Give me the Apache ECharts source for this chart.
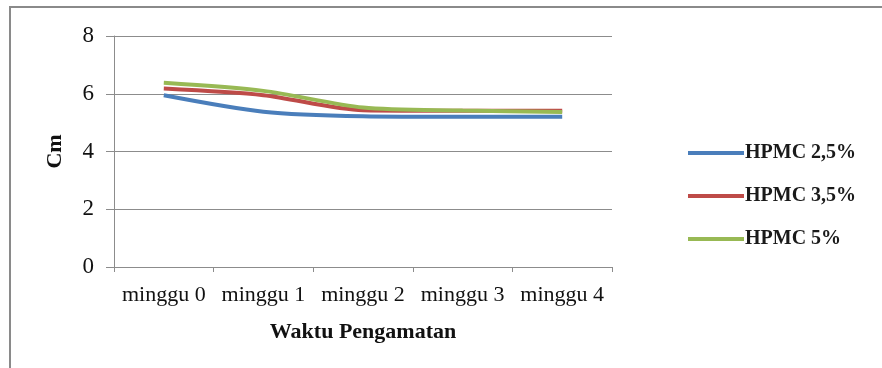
<!DOCTYPE html>
<html>
<head>
<meta charset="utf-8">
<script src="https://cdn.jsdelivr.net/npm/echarts@6/dist/echarts.min.js"></script>
<style>
  html, body { margin: 0; padding: 0; background: #fff; }
  #chart { width: 882px; height: 368px; }
</style>
</head>
<body>
<div id="chart"></div>
<script>
// Weekly observations (cm) for three HPMC concentrations
const categories = ['minggu 0', 'minggu 1', 'minggu 2', 'minggu 3', 'minggu 4'];
const hpmc25 = [5.95, 5.38, 5.22, 5.2, 5.2];
const hpmc35 = [6.18, 5.95, 5.43, 5.41, 5.41];
const hpmc5 = [6.38, 6.1, 5.52, 5.42, 5.37];
const seriesNames = ['HPMC 2,5%', 'HPMC 3,5%', 'HPMC 5%'];
const colors = ['#4a7ebb', '#be4b48', '#98b954'];

const serif = '"Liberation Serif", "Times New Roman", serif';

const chart = echarts.init(document.getElementById('chart'), null, { renderer: 'canvas' });

function lineSeries(name, data, color) {
  return {
    name: name,
    type: 'line',
    data: data,
    smooth: 0.28,
    symbol: 'none',
    lineStyle: { color: color, width: 4 },
    itemStyle: { color: color },
    z: 3
  };
}

chart.setOption({
  backgroundColor: '#ffffff',
  animation: false,
  color: colors,
  graphic: [{
    type: 'rect',
    shape: { x: 10, y: 7, width: 890, height: 380 },
    style: { fill: 'none', stroke: '#8a8a8a', lineWidth: 2 },
    silent: true
  }],
  grid: { left: 114, right: 270, top: 36, bottom: 101 },
  legend: {
    orient: 'vertical',
    left: 683,
    top: 137,
    itemWidth: 56,
    itemHeight: 4,
    itemGap: 21,
    icon: 'rect',
    data: seriesNames,
    textStyle: { fontFamily: serif, fontSize: 20, fontWeight: 'bold', color: '#1a1a1a', lineHeight: 22, padding: [0, 0, 0, -4] }
  },
  xAxis: {
    type: 'category',
    data: categories,
    boundaryGap: true,
    name: 'Waktu Pengamatan',
    nameLocation: 'middle',
    nameGap: 54,
    nameTextStyle: { fontFamily: serif, fontSize: 22, fontWeight: 'bold', color: '#111' },
    axisLine: { lineStyle: { color: '#8c8c8c', width: 1 } },
    axisTick: { show: true, interval: 0, length: 5, lineStyle: { color: '#8c8c8c' } },
    axisLabel: { interval: 0, hideOverlap: false, fontFamily: serif, fontSize: 22, color: '#111', margin: 17 }
  },
  yAxis: {
    type: 'value',
    min: 0,
    max: 8,
    interval: 2,
    name: 'Cm',
    nameLocation: 'middle',
    nameGap: 48,
    nameRotate: 90,
    nameTextStyle: { fontFamily: serif, fontSize: 22, fontWeight: 'bold', color: '#111' },
    axisLine: { show: true, lineStyle: { color: '#8c8c8c', width: 1 } },
    axisTick: { show: true, length: 8, lineStyle: { color: '#8c8c8c' } },
    axisLabel: { fontFamily: serif, fontSize: 23, color: '#111', margin: 20 },
    splitLine: { lineStyle: { color: '#8c8c8c', width: 1 } }
  },
  series: [
    lineSeries(seriesNames[0], hpmc25, colors[0]),
    lineSeries(seriesNames[1], hpmc35, colors[1]),
    lineSeries(seriesNames[2], hpmc5, colors[2])
  ]
});
</script>
</body>
</html>
